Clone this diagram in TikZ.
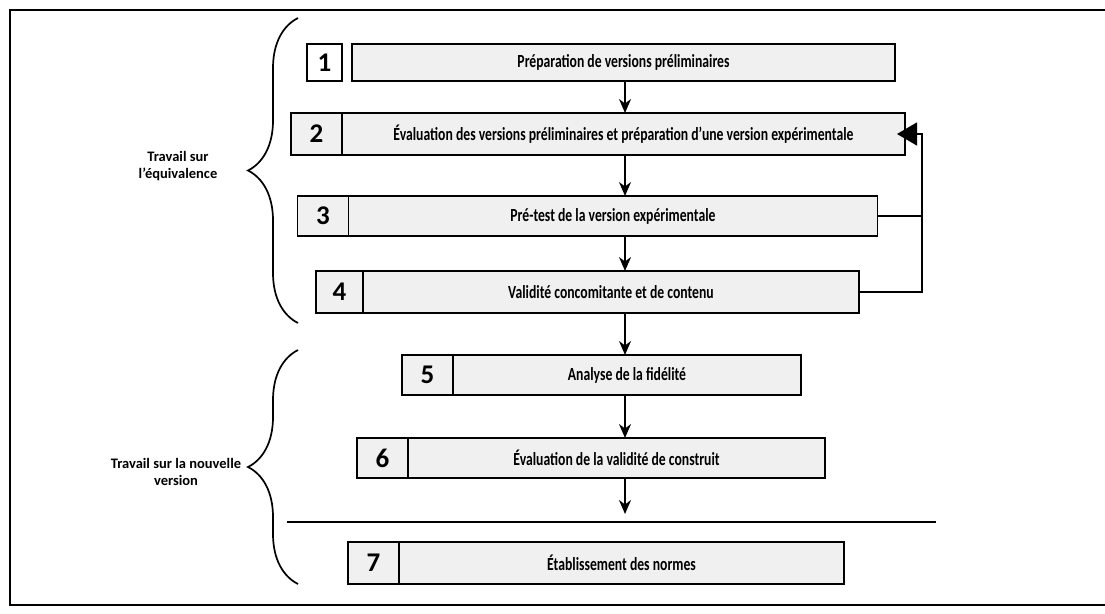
\documentclass[tikz,border=0pt]{standalone}
\usepackage{fontspec}
\setmainfont{Carlito}
\newfontfamily\stepfont[FakeStretch=0.74]{Carlito}
\usetikzlibrary{positioning,arrows.meta,decorations.pathreplacing}

\begin{document}
\begin{tikzpicture}[
        x=1pt,
        y=-1pt,
        num/.style={
            rectangle,
            draw,
            line width=1.6pt,
            fill=gray!12,
            outer sep=0pt,
            inner sep=0pt,
            minimum width=51pt,
            minimum height=40pt,
            font=\fontsize{27}{27}\selectfont\bfseries
        },
        stepbox/.style={
            rectangle,
            draw,
            line width=1.6pt,
            fill=gray!12,
            outer sep=0pt,
            inner sep=0pt,
            minimum height=40pt,
            font=\stepfont\fontsize{18.5}{18.5}\selectfont\bfseries
        },
        arrow/.style={
            -{Stealth[length=14pt,width=12pt]},
            line width=1.9pt
        },
        group/.style={
            align=center,
            font=\fontsize{14.5}{17}\selectfont\bfseries
        },
        bracket/.style={
            decorate,
            decoration={brace, amplitude=50pt},
            line width=1.7pt
        }
    ]
    \useasboundingbox (0,0) rectangle (1105,613);

    % Frame
    \draw[line width=2.5pt] (1105,10) -- (10,10) -- (10,605) -- (1105,605);

    % Steps 1 to 4
    \node[num, fill=white, minimum width=35pt, minimum height=37pt] (n1) at (324.5,62.5) {1};
    \node[stepbox, minimum width=543pt, minimum height=37pt, right=10pt of n1] (s1) {Préparation de versions préliminaires};

    \node[num, minimum height=42pt] (n2) at (316.5,134) {2};
    \node[stepbox, minimum width=563pt, minimum height=42pt, right=0pt of n2] (s2) {Évaluation des versions préliminaires et préparation d’une version expérimentale};

    \node[num] (n3) at (323,216) {3};
    \node[stepbox, minimum width=529pt, right=0pt of n3] (s3) {Pré-test de la version expérimentale};

    \node[num, minimum width=47pt, minimum height=42pt] (n4) at (339.5,292) {4};
    \node[stepbox, minimum width=496pt, minimum height=42pt, right=0pt of n4] (s4) {Validité concomitante et de contenu};

    % Steps 5 to 7
    \node[num] (n5) at (427.5,375) {5};
    \node[stepbox, minimum width=348pt, right=0pt of n5] (s5) {Analyse de la fidélité};

    \node[num] (n6) at (382.5,458) {6};
    \node[stepbox, minimum width=417pt, right=0pt of n6] (s6) {Évaluation de la validité de construit};

    \node[num, minimum height=42pt] (n7) at (373.5,563) {7};
    \node[stepbox, minimum width=445pt, minimum height=42pt, right=0pt of n7] (s7) {Établissement des normes};

    % Separator before step 7
    \coordinate (sepL) at (287,522);
    \coordinate (sepR) at (936,522);
    \draw[line width=2pt] (sepL) -- (sepR);

    % Main flow
    \coordinate (spine) at (625,0);
    \coordinate (end6) at (625,514);
    \draw[arrow] (s1.south -| spine) -- (s2.north -| spine);
    \draw[arrow] (s2.south -| spine) -- (s3.north -| spine);
    \draw[arrow] (s3.south -| spine) -- (s4.north -| spine);
    \draw[arrow] (s4.south -| spine) -- (s5.north -| spine);
    \draw[arrow] (s5.south -| spine) -- (s6.north -| spine);
    \draw[arrow] (s6.south -| spine) -- (end6);

    % Feedback loop back to step 2
    \coordinate (fb) at (922,0);
    \draw[line width=1.5pt] (s3.east) -- (s3.east -| fb);
    \draw[line width=1.5pt, -{Triangle[length=20pt,width=23pt]}, shorten >=-8pt]
        (s4.east) -- (s4.east -| fb) -- (s2.east -| fb) -- (s2.east);

    % Groups
    \draw[bracket] (298,323) -- (298,18);
    \draw[bracket] (298,584) -- (298,350);
    \node[group] (g1) at (178,166) {Travail sur\\l'équivalence};
    \node[group] (g2) at (176,472) {Travail sur la nouvelle\\version};

\end{tikzpicture}
\end{document}
